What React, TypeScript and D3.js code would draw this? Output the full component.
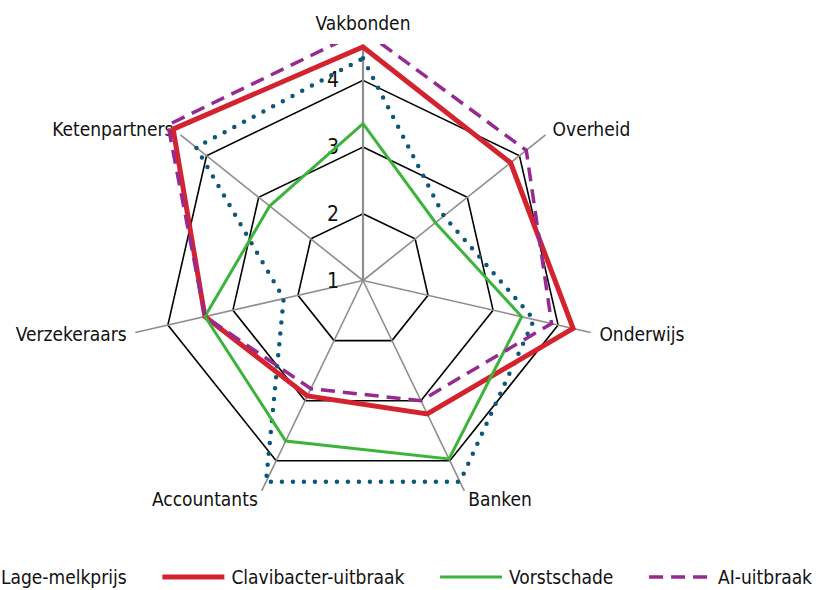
import React, { useEffect, useRef } from "react";
import * as d3 from "d3";

const categories = ["Vakbonden", "Overheid", "Onderwijs", "Banken", "Accountants", "Verzekeraars", "Ketenpartners"];
const seriesNames = ["Lage-melkprijs", "Clavibacter-uitbraak", "Vorstschade", "AI-uitbraak"];
const lageMelkprijs = [4.33, 2.55, 3.63, 4.35, 4.35, 2.22, 4.2];
const clavibacter = [4.5, 3.83, 4.23, 3.22, 2.92, 3.43, 4.64];
const vorstschade = [3.35, 2.39, 3.44, 3.97, 3.67, 3.43, 2.79];
const aiUitbraak = [4.75, 4.13, 3.9, 3.0, 2.8, 3.43, 4.74];
const ringValues = [2, 3, 4];
const tickLabels = [1, 2, 3, 4];
const axisMin = 1;
const axisMax = 4.5;

const W = 816;
const H = 590;
const FONT = "'Liberation Sans Narrow', 'Arial Narrow', 'DejaVu Sans Condensed', sans-serif";
const FS = 19;

const styles = [
  { color: "#0d5878", width: 4.5, dash: "0 11", cap: "round" },
  { color: "#d3232e", width: 5, dash: null, cap: "butt" },
  { color: "#3cb43c", width: 3, dash: null, cap: "butt" },
  { color: "#962a92", width: 3.5, dash: "14 8", cap: "butt" },
];

export default function App() {
  const ref = useRef<SVGSVGElement | null>(null);

  useEffect(() => {
    const svg = d3.select(ref.current);
    svg.selectAll("*").remove();
    const cx = 363;
    const cy = 280.5;
    const R = 233.5;
    const r = d3.scaleLinear().domain([axisMin, axisMax]).range([0, R]);
    const n = categories.length;
    const ang = d3.scaleLinear().domain([0, n]).range([0, 2 * Math.PI]);

    const defs = svg.append("defs");
    defs.append("clipPath").attr("id", "plotclip")
      .append("rect").attr("x", 0).attr("y", 44).attr("width", W).attr("height", 500);

    const g = svg.append("g").attr("transform", `translate(${cx},${cy})`);

    const ringLine = d3.lineRadial<number>()
      .angle((_, i) => ang(i))
      .radius((d) => r(d))
      .curve(d3.curveLinearClosed);
    ringValues.forEach((v) => {
      g.append("path")
        .attr("d", ringLine(categories.map(() => v)) as string)
        .attr("fill", "none")
        .attr("stroke", "#000")
        .attr("stroke-width", 1.6);
    });

    categories.forEach((c, i) => {
      const a = ang(i);
      g.append("line")
        .attr("x1", 0).attr("y1", 0)
        .attr("x2", R * Math.sin(a)).attr("y2", -R * Math.cos(a))
        .attr("stroke", "#8e8e8e")
        .attr("stroke-width", i === 0 ? 2.2 : 1.6);
    });

    tickLabels.forEach((t) => {
      g.append("text")
        .attr("x", -24)
        .attr("y", -r(t))
        .attr("text-anchor", "end")
        .attr("dominant-baseline", "central")
        .attr("font-family", FONT)
        .attr("font-size", 21)
        .attr("fill", "#111")
        .text(String(t));
    });

    categories.forEach((c, i) => {
      const a = ang(i);
      const s = Math.sin(a);
      const co = Math.cos(a);
      const lr = R + 9;
      const t = g.append("text")
        .attr("font-family", FONT)
        .attr("font-size", FS)
        .attr("fill", "#111")
        .text(c);
      if (Math.abs(s) < 0.1) {
        t.attr("x", 0).attr("y", -R - 17).attr("text-anchor", "middle");
      } else {
        t.attr("x", lr * s)
          .attr("y", -lr * co)
          .attr("text-anchor", s > 0 ? "start" : "end")
          .attr("dominant-baseline", "central");
      }
    });

    const sg = svg.append("g").attr("clip-path", "url(#plotclip)")
      .append("g").attr("transform", `translate(${cx},${cy})`);
    const data = [lageMelkprijs, clavibacter, vorstschade, aiUitbraak];
    const line = d3.lineRadial<number>()
      .angle((_, i) => ang(i))
      .radius((d) => r(d))
      .curve(d3.curveLinearClosed);
    data.forEach((vals, k) => {
      const st = styles[k];
      const p = sg.append("path")
        .attr("d", line(vals) as string)
        .attr("fill", "none")
        .attr("stroke", st.color)
        .attr("stroke-width", st.width)
        .attr("stroke-linejoin", k === 0 ? "round" : "miter")
        .attr("stroke-linecap", st.cap);
      if (st.dash) p.attr("stroke-dasharray", st.dash);
    });

    // legend
    const ly = 577;
    const sampleW = 66;
    const gapA = 5;
    const lg = svg.append("g");
    const texts = seriesNames.map((name) =>
      lg.append("text")
        .attr("font-family", FONT)
        .attr("font-size", FS)
        .attr("fill", "#111")
        .attr("dominant-baseline", "central")
        .attr("y", ly)
        .text(name)
    );
    const widths = texts.map((t) => (t.node() as SVGTextElement).getComputedTextLength());
    const firstX = 1;
    const lastEnd = 812;
    const used = widths.reduce((s, w) => s + w, 0) + (seriesNames.length - 1) * (sampleW + gapA);
    const gapB = Math.max(8, (lastEnd - firstX - used) / (seriesNames.length - 1));
    let x = firstX - sampleW - gapA;
    seriesNames.forEach((name, k) => {
      const st = styles[k];
      const l = lg.append("line")
        .attr("x1", x + 2).attr("x2", x + sampleW - 2)
        .attr("y1", ly).attr("y2", ly)
        .attr("stroke", st.color)
        .attr("stroke-width", st.width)
        .attr("stroke-linecap", st.cap);
      if (st.dash) l.attr("stroke-dasharray", st.dash);
      x += sampleW + gapA;
      texts[k].attr("x", x);
      x += widths[k] + gapB;
    });
  }, []);

  return (
    <svg
      ref={ref}
      width={W}
      height={H}
      style={{ position: "fixed", left: 0, top: 0, background: "#fff" }}
    />
  );
}
